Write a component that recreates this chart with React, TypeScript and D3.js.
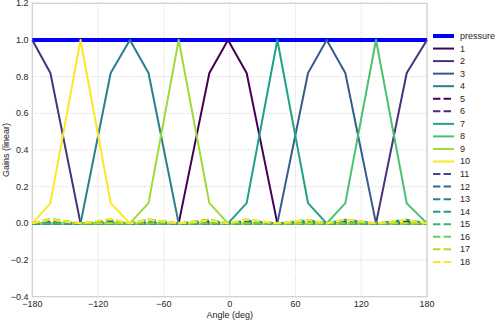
import React from "react";
import * as d3 from "d3";

const angles = [-180, -163.5, -136, -108.5, -91, -74, -46.5, -18.5, -1.5, 15.5, 43.5, 71.5, 88.5, 105.5, 133.5, 161.5, 180];
const pressure = angles.map(() => 1);

// solid channels (speaker gains)
const g1 = [0, 0, 0, 0, 0, 0, 0, 0.82, 1, 0.82, 0, 0, 0, 0, 0, 0, 0];
const g2 = [1, 0.82, 0, 0, 0, 0, 0, 0, 0, 0, 0, 0, 0, 0, 0, 0.82, 1];
const g3 = [0, 0, 0, 0, 0, 0, 0, 0, 0, 0, 0, 0.82, 1, 0.82, 0, 0, 0];
const g4 = [0, 0, 0, 0.82, 1, 0.82, 0, 0, 0, 0, 0, 0, 0, 0, 0, 0, 0];
const g7 = [0, 0, 0, 0, 0, 0, 0, 0, 0, 0.11, 1, 0.11, 0, 0, 0, 0, 0];
const g8 = [0, 0, 0, 0, 0, 0, 0, 0, 0, 0, 0, 0, 0, 0.11, 1, 0.11, 0];
const g9 = [0, 0, 0, 0, 0, 0.11, 1, 0.11, 0, 0, 0, 0, 0, 0, 0, 0, 0];
const g10 = [0, 0.11, 1, 0.11, 0, 0, 0, 0, 0, 0, 0, 0, 0, 0, 0, 0, 0];

// dashed channels (small residual gains)
const g5 = [0, 0, 0, 0, 0, 0, 0, 0.01, 0, 0.01, 0, 0, 0, 0, 0, 0, 0];
const g6 = [0, 0.01, 0, 0, 0, 0, 0, 0, 0, 0, 0, 0, 0, 0, 0, 0.01, 0];
const g11 = [0, 0, 0, 0, 0, 0, 0, 0, 0, 0, 0, 0.012, 0, 0.012, 0, 0, 0];
const g12 = [0, 0, 0, 0.012, 0, 0.012, 0, 0, 0, 0, 0, 0, 0, 0, 0, 0, 0];
const g13 = [0, 0, 0, 0, 0, 0, 0, 0, 0, 0.015, 0, 0.015, 0, 0, 0, 0, 0];
const g14 = [0, 0, 0, 0, 0, 0, 0, 0, 0, 0, 0, 0, 0, 0.02, 0, 0.02, 0];
const g15 = [0, 0, 0, 0, 0, 0.02, 0, 0.02, 0, 0, 0, 0, 0, 0, 0, 0, 0];
const g16 = [0, 0.025, 0, 0.02, 0, 0, 0, 0, 0, 0, 0, 0.02, 0, 0, 0, 0, 0];
const g17 = [0, 0.02, 0, 0, 0, 0.022, 0, 0.02, 0, 0.022, 0, 0, 0, 0.02, 0, 0, 0];
const g18 = [0, 0.02, 0, 0.025, 0, 0.018, 0, 0.015, 0, 0.02, 0, 0.018, 0, 0.022, 0, 0.02, 0];

const seriesNames = ["1", "2", "3", "4", "5", "6", "7", "8", "9", "10", "11", "12", "13", "14", "15", "16", "17", "18"];
const seriesValues = [g1, g2, g3, g4, g5, g6, g7, g8, g9, g10, g11, g12, g13, g14, g15, g16, g17, g18];
const seriesDashed = [false, false, false, false, true, true, false, false, false, false, true, true, true, true, true, true, true, true];

const solidColors = ["#440154", "#46327e", "#365c8d", "#277f8e", "#1fa187", "#4ac16d", "#a0da39", "#fde725"];
const dashedColors = ["#440154", "#482878", "#3e4a89", "#31688e", "#26828e", "#1f9e89", "#35b779", "#6ece58", "#b5de2b", "#fde725"];

const xTicks = [-180, -120, -60, 0, 60, 120, 180];
const yTicks = [-0.4, -0.2, 0.0, 0.2, 0.4, 0.6, 0.8, 1.0, 1.2];

const W = 498, H = 321;
const left = 32.3, right = 427, top = 3.3, bottom = 296.7;
const FONT = "'Liberation Sans', Arial, sans-serif";
const TXT = "#262626";

export default function App() {
  const x = d3.scaleLinear().domain([-180, 180]).range([left, right]);
  const y = d3.scaleLinear().domain([-0.4, 1.2]).range([bottom, top]);
  const line = d3.line<number>().x((_, i) => x(angles[i])).y((d) => y(d));

  let si = 0, di = 0;
  const colors = seriesDashed.map((d) => (d ? dashedColors[di++] : solidColors[si++]));

  const fmtMinus = (s: string) => s.replace("-", "\u2212");
  const legendX = 433, legendY0 = 36, legendStep = 12.55;

  return (
    <svg width={W} height={H} style={{ position: "absolute", left: 0, top: 0 }} fontFamily={FONT}>
      <rect x={0} y={0} width={W} height={H} fill="#fff" />
      {/* grid */}
      {xTicks.map((t) => (
        <line key={"gx" + t} x1={x(t)} x2={x(t)} y1={top} y2={bottom} stroke="#c4c4c4" strokeWidth={0.8} strokeDasharray="1,1.6" />
      ))}
      {yTicks.map((t) => (
        <line key={"gy" + t} x1={left} x2={right} y1={y(t)} y2={y(t)} stroke="#c4c4c4" strokeWidth={0.8} strokeDasharray="1,1.6" />
      ))}
      {/* spines */}
      <rect x={left} y={top} width={right - left} height={bottom - top} fill="none" stroke="#d0d0d0" strokeWidth={1.25} />
      {/* data */}
      <g>
        <path d={line(pressure) || ""} fill="none" stroke="#0000ff" strokeWidth={4} />
        {seriesValues.map((vals, i) => (
          <path
            key={"s" + i}
            d={line(vals) || ""}
            fill="none"
            stroke={colors[i]}
            strokeWidth={2}
            strokeDasharray={seriesDashed[i] ? "7.4,3.2" : undefined}
            strokeLinejoin="round"
          />
        ))}
      </g>
      {/* tick labels */}
      {xTicks.map((t) => (
        <text key={"tx" + t} x={x(t)} y={306.5} fontSize={9} fill={TXT} textAnchor="middle">
          {fmtMinus(String(t))}
        </text>
      ))}
      {yTicks.map((t) => (
        <text key={"ty" + t} x={28.5} y={y(t)} dy="0.33em" fontSize={9} fill={TXT} textAnchor="end">
          {fmtMinus(t.toFixed(1))}
        </text>
      ))}
      <text x={(left + right) / 2} y={318} fontSize={9} fill={TXT} textAnchor="middle">
        Angle (deg)
      </text>
      <text transform={`translate(8.5,${(top + bottom) / 2}) rotate(-90)`} fontSize={9} fill={TXT} textAnchor="middle">
        Gains (linear)
      </text>
      {/* legend */}
      <g>
        <line x1={legendX} x2={legendX + 21} y1={legendY0} y2={legendY0} stroke="#0000ff" strokeWidth={4} />
        <text x={legendX + 27} y={legendY0} dy="0.33em" fontSize={9} fill={TXT}>
          pressure
        </text>
        {seriesNames.map((n, i) => {
          const yy = legendY0 + (i + 1) * legendStep;
          return (
            <g key={"lg" + n}>
              <line
                x1={legendX}
                x2={legendX + 21}
                y1={yy}
                y2={yy}
                stroke={colors[i]}
                strokeWidth={2}
                strokeDasharray={seriesDashed[i] ? "7.4,3.2" : undefined}
              />
              <text x={legendX + 27} y={yy} dy="0.33em" fontSize={9} fill={TXT}>
                {n}
              </text>
            </g>
          );
        })}
      </g>
    </svg>
  );
}
